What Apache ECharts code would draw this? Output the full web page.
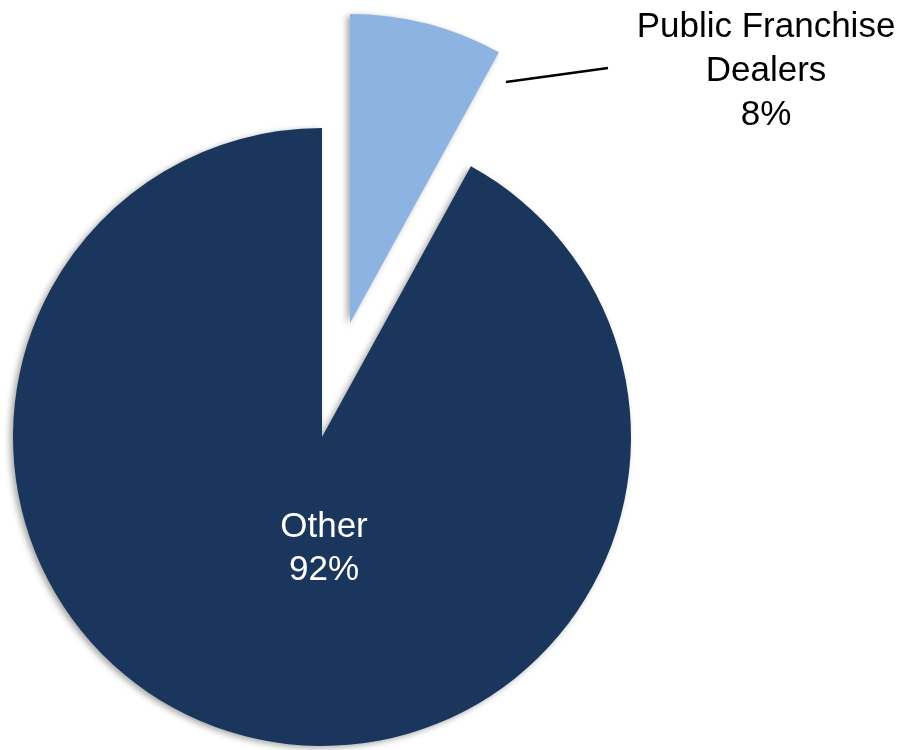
<!DOCTYPE html>
<html><head><meta charset="utf-8">
<script src="https://cdn.jsdelivr.net/npm/echarts/dist/echarts.min.js"></script>
<style>html,body{margin:0;padding:0;background:#fff}#c{width:911px;height:750px}</style>
</head><body><div id="c"></div>
<script>
const categories = ['Public Franchise Dealers', 'Other'];
const labelNames = ['Public Franchise\nDealers', 'Other'];
const values = [8, 92];
const colors = ['#8db3e2', '#1b365d'];

const chart = echarts.init(document.getElementById('c'), null, {renderer: 'canvas'});

const shadow = {shadowBlur: 6, shadowColor: 'rgba(0,0,0,0.35)', shadowOffsetX: -3, shadowOffsetY: 2};
const hidden = {color: 'rgba(0,0,0,0)', shadowColor: 'rgba(0,0,0,0)', shadowBlur: 0};
const font = {fontFamily: 'Liberation Sans, Arial, sans-serif', fontSize: 35, lineHeight: 44, align: 'center'};

// visible index per series: main pie shows "Other", exploded pie shows the 8% slice
function makeData(visibleIdx) {
  return categories.map((c, i) => ({
    name: c,
    value: values[i],
    itemStyle: i === visibleIdx ? Object.assign({color: colors[i]}, shadow) : hidden,
    label: {show: i === visibleIdx},
    labelLine: {show: i === visibleIdx && i === 0}
  }));
}

chart.setOption({
  animation: false,
  backgroundColor: '#fff',
  series: [{
    type: 'pie',
    center: [322, 437],
    radius: 309,
    startAngle: 90,
    clockwise: true,
    silent: true,
    avoidLabelOverlap: false,
    label: Object.assign({position: 'inside', color: '#fff',
      formatter: p => labelNames[p.dataIndex] + '\n' + p.percent + '%'}, font, {lineHeight: 43}),
    labelLayout: () => ({x: 324, y: 549, align: 'center', verticalAlign: 'middle'}),
    data: makeData(1)
  }, {
    type: 'pie',
    center: [350, 323],
    radius: 309,
    startAngle: 90,
    clockwise: true,
    silent: true,
    avoidLabelOverlap: false,
    label: Object.assign({position: 'outside', color: '#000',
      formatter: p => labelNames[p.dataIndex] + '\n' + p.percent + '%'}, font),
    labelLine: {lineStyle: {color: '#000', width: 2.5}},
    labelLayout: () => ({
      x: 766, y: 71, align: 'center', verticalAlign: 'middle',
      labelLinePoints: [[506, 82], [557, 75], [608, 68]]
    }),
    data: makeData(0)
  }]
});
</script>
</body></html>
